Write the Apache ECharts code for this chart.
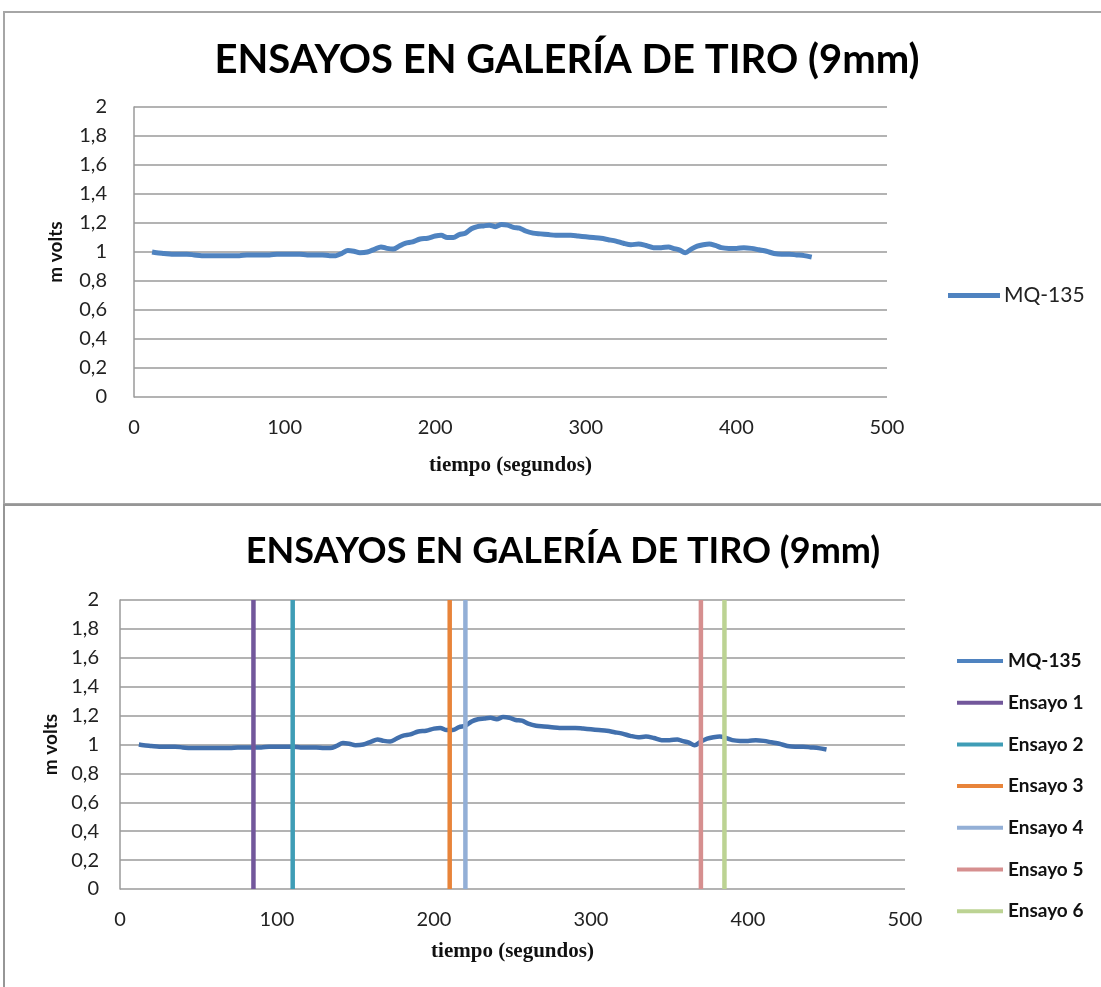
<!DOCTYPE html>
<html>
<head>
<meta charset="utf-8">
<script src="https://cdn.jsdelivr.net/npm/echarts@6/dist/echarts.min.js"></script>
<style>
  html, body { margin: 0; padding: 0; background: #fff; }
  #chart { width: 1101px; height: 987px; }
</style>
</head>
<body>
<div id="chart"></div>
<script>
// Sensor readings (time in seconds, m volts)
const tiempos = [12, 15, 20, 25, 30, 35, 40, 45, 50, 55, 60, 65, 70, 75, 80, 85, 90, 95, 100, 105,
  110, 115, 120, 125, 130, 134, 138, 142, 146, 150, 155, 160, 164, 168, 172, 176, 180, 185, 190, 195,
  200, 204, 208, 212, 216, 220, 224, 228, 232, 236, 240, 244, 248, 252, 256, 260, 265, 270, 275, 280,
  285, 290, 295, 300, 305, 310, 315, 320, 325, 330, 335, 340, 345, 350, 355, 358, 362, 366, 370, 374,
  378, 382, 386, 390, 395, 400, 405, 410, 415, 420, 425, 430, 435, 440, 445, 450];
const mq135 = [1.00, 0.995, 0.99, 0.985, 0.985, 0.985, 0.98, 0.975, 0.975, 0.975, 0.975, 0.975, 0.975, 0.98, 0.98, 0.98, 0.98, 0.985, 0.985, 0.985,
  0.985, 0.98, 0.98, 0.98, 0.975, 0.975, 0.99, 1.01, 1.005, 0.995, 1.0, 1.02, 1.035, 1.025, 1.02, 1.04, 1.06, 1.07, 1.09, 1.095,
  1.11, 1.115, 1.10, 1.10, 1.12, 1.13, 1.16, 1.175, 1.18, 1.185, 1.175, 1.19, 1.185, 1.17, 1.165, 1.145, 1.13, 1.125, 1.12, 1.115,
  1.115, 1.115, 1.11, 1.105, 1.10, 1.095, 1.085, 1.075, 1.06, 1.05, 1.055, 1.045, 1.03, 1.03, 1.035, 1.025, 1.015, 0.995, 1.02, 1.04,
  1.05, 1.055, 1.045, 1.03, 1.025, 1.025, 1.03, 1.025, 1.015, 1.005, 0.99, 0.985, 0.985, 0.98, 0.975, 0.965];

// Trial moments (seconds)
const ensayoNombres = ['Ensayo 1', 'Ensayo 2', 'Ensayo 3', 'Ensayo 4', 'Ensayo 5', 'Ensayo 6'];
const ensayoTiempos = [85, 110, 210, 220, 370, 385];
const ensayoColores = ['#72579b', '#3f9db6', '#e8843a', '#93afd6', '#d68f8f', '#bcd393'];

const xTicks = [0, 100, 200, 300, 400, 500];
const yRange = [0, 2];

const titulo = 'ENSAYOS EN GALERÍA DE TIRO (9mm)';
const serieNombre = 'MQ-135';
const xNombre = 'tiempo (segundos)';
const yNombre = 'm volts';

const puntos = tiempos.map((t, i) => [t, mq135[i]]);
const sansFont = 'Lato, "Open Sans", sans-serif';

function xAxisCfg(gridIndex, nameGap) {
  return {
    gridIndex, type: 'value', min: xTicks[0], max: xTicks[xTicks.length - 1], interval: 100,
    name: xNombre, nameLocation: 'middle', nameGap,
    nameTextStyle: { fontFamily: '"Liberation Serif", serif', fontWeight: 'bold', fontSize: 21, color: '#111' },
    axisLine: { show: false }, axisTick: { show: false }, splitLine: { show: false },
    axisLabel: { fontFamily: sansFont, fontSize: 20, color: '#222', margin: 21 }
  };
}
function yAxisCfg(gridIndex, nameGap, margin) {
  return {
    gridIndex, type: 'value', min: yRange[0], max: yRange[1], interval: 0.2,
    name: yNombre, nameLocation: 'middle', nameGap, nameRotate: 90,
    nameTextStyle: { fontFamily: sansFont, fontWeight: 'bold', fontSize: 19, color: '#111' },
    axisLine: { show: true, lineStyle: { color: '#9a9a9a', width: 1.5 } },
    axisTick: { show: false },
    splitLine: { show: true, lineStyle: { color: '#9a9a9a', width: 1.5 } },
    axisLabel: { fontFamily: sansFont, fontSize: 20, color: '#222', margin,
      formatter: v => String(Math.round(v * 10) / 10).replace('.', ',') }
  };
}

const series = [
  { name: serieNombre, type: 'line', xAxisIndex: 0, yAxisIndex: 0, data: puntos, showSymbol: false,
    smooth: 0.3, lineStyle: { color: '#4f83c0', width: 5 }, itemStyle: { color: '#4f83c0' } },
  { name: serieNombre, type: 'line', xAxisIndex: 1, yAxisIndex: 1, data: puntos, showSymbol: false,
    smooth: 0.3, lineStyle: { color: '#4270ad', width: 4.5 }, itemStyle: { color: '#4270ad' }, z: 3 }
];
ensayoTiempos.forEach((t, i) => {
  series.push({
    name: ensayoNombres[i], type: 'line', xAxisIndex: 1, yAxisIndex: 1,
    data: [[t, yRange[0]], [t, yRange[1]]], showSymbol: false,
    lineStyle: { color: ensayoColores[i], width: 4.5 }, itemStyle: { color: ensayoColores[i] }, z: 4
  });
});

const chart = echarts.init(document.getElementById('chart'), null, { renderer: 'canvas' });
chart.setOption({
  animation: false,
  backgroundColor: '#fff',
  graphic: [
    { type: 'rect', shape: { x: 4, y: 12, width: 1200, height: 492 }, style: { fill: 'none', stroke: '#a6a6a6', lineWidth: 2 }, z: -1 },
    { type: 'rect', shape: { x: 4, y: 505, width: 1200, height: 600 }, style: { fill: 'none', stroke: '#969696', lineWidth: 2 }, z: -1 }
  ],
  title: [
    { text: titulo, left: 562, top: 35, textAlign: 'center',
      textStyle: { fontFamily: sansFont, fontWeight: 'bold', fontSize: 40, color: '#000' } },
    { text: titulo, left: 558, top: 528, textAlign: 'center',
      textStyle: { fontFamily: sansFont, fontWeight: 'bold', fontSize: 36, color: '#000' } }
  ],
  legend: [
    { data: [serieNombre], left: 948, top: 285, orient: 'vertical', icon: 'rect', padding: 0,
      itemWidth: 52, itemHeight: 5, itemGap: 10,
      textStyle: { fontFamily: sansFont, fontSize: 21, color: '#222', padding: [0, 0, 0, -1] } },
    { data: [serieNombre].concat(ensayoNombres), left: 957, top: 649, orient: 'vertical', icon: 'rect', padding: 0,
      itemWidth: 46, itemHeight: 4, itemGap: 17.7,
      textStyle: { fontFamily: sansFont, fontWeight: 'bold', fontSize: 19, color: '#111', lineHeight: 24 } }
  ],
  grid: [
    { left: 134, right: 1101 - 887, top: 107, bottom: 987 - 397 },
    { left: 120, right: 1101 - 905, top: 600, bottom: 987 - 889 }
  ],
  xAxis: [xAxisCfg(0, 58), xAxisCfg(1, 52)],
  yAxis: [yAxisCfg(0, 69, 27), yAxisCfg(1, 57, 21)],
  series
});
</script>
</body>
</html>
